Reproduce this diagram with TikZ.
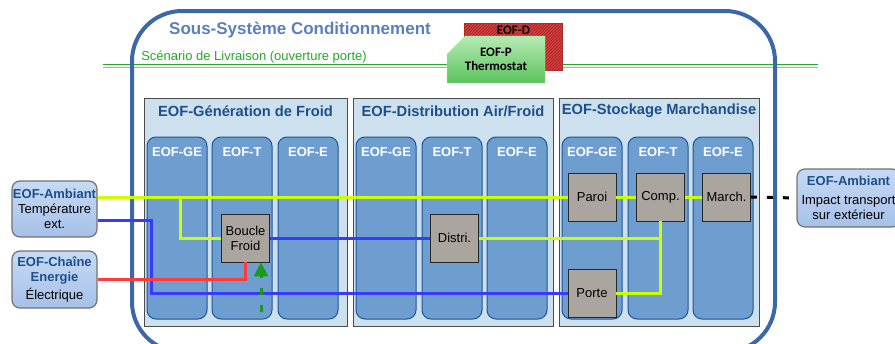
\documentclass[tikz,border=0pt]{standalone}
\usepackage{fontspec}
\setmainfont{Liberation Sans}
\newfontfamily\calibri{Carlito}
\usepackage{tikz}
\usetikzlibrary{arrows.meta,positioning,calc,shapes.misc,patterns}
\usepackage{xcolor}
\definecolor{cadreBleu}{HTML}{3D68A8}
\definecolor{titreBleu}{HTML}{5B7EBE}
\definecolor{panneauFond}{HTML}{CDE0EE}
\definecolor{eofBleu}{HTML}{1F4E8C}
\definecolor{colFond}{HTML}{6E9ED0}
\definecolor{colBord}{HTML}{1F5596}
\definecolor{boiteFond}{HTML}{ABA59F}
\definecolor{externeHaut}{HTML}{C6DAF4}
\definecolor{externeBas}{HTML}{A6C0E8}
\definecolor{lienJaune}{HTML}{CCFF00}
\definecolor{lienBleu}{HTML}{3A3AFF}
\definecolor{lienRouge}{HTML}{FF3B3B}
\definecolor{vertFleche}{HTML}{1A9A1A}
\definecolor{vertLigne}{HTML}{22AA22}
\definecolor{rougeD}{HTML}{D93B3B}
\definecolor{vertHaut}{HTML}{B4EAB4}
\definecolor{vertBas}{HTML}{5CC35C}

\begin{document}
\begin{tikzpicture}[x=1pt, y=-1pt,
  petit/.style={font=\fontsize{13}{15}\selectfont},
  panneau/.style={rectangle, draw=black!70, line width=0.8pt, fill=panneauFond,
    minimum width=200pt, minimum height=228pt},
  titrePanneau/.style={font=\fontsize{14.7}{17}\selectfont\bfseries, text=eofBleu},
  colonne/.style={rectangle, rounded corners=9pt, draw=colBord, line width=1pt, fill=colFond,
    minimum width=60pt, minimum height=182pt},
  entete/.style={font=\fontsize{13}{15}\selectfont\bfseries, text=white, anchor=north, yshift=-7pt},
  boite/.style={petit, rectangle, draw=black!85, line width=0.8pt, fill=boiteFond, align=center,
    minimum width=48pt, minimum height=48pt, inner sep=1pt},
  externe/.style={petit, rectangle, rounded corners=8pt, draw=black!55, line width=1.2pt,
    top color=externeHaut, bottom color=externeBas, align=center, inner sep=1pt},
  eof/.style={chamfered rectangle, chamfered rectangle corners=north west,
    chamfered rectangle xsep=14pt, chamfered rectangle ysep=7pt,
    minimum width=98pt, minimum height=47pt, inner sep=0pt,
    font=\calibri\bfseries\fontsize{13}{14}\selectfont, align=center},
  jaune/.style={draw=lienJaune, line width=3pt},
  bleu/.style={draw=lienBleu, line width=3pt},
  rouge/.style={draw=lienRouge, line width=3pt}
]
  \useasboundingbox (0,0) rectangle (895,343);
  \clip (0,0) rectangle (895,343);

  \draw[vertLigne, line width=1.5pt] (103,64.5) -- (818,64.5);
  \draw[vertLigne!55, line width=0.8pt] (103,67.5) -- (818,67.5);

  \node (cadre) [rectangle, rounded corners=50pt, draw=cadreBleu, line width=4pt,
    minimum width=643pt, minimum height=341pt] at (453.5,181.5) {};
  \node (titre) [font=\fontsize{17}{19}\selectfont\bfseries, text=titreBleu] at (300,30)
    {Sous-Système Conditionnement};
  \node (scenario) [petit, text=vertLigne] at (254,57) {Scénario de Livraison (ouverture porte)};

  \node (eofD) [eof, draw=rougeD!80!black, fill=rougeD,
    postaction={pattern=north east lines, pattern color=rougeD!70!black},
    label={[anchor=north, inner sep=3pt, font=\calibri\bfseries\fontsize{13}{14}\selectfont]north:EOF-D}]
    at (513.5,46.5) {};
  \node (eofP) [eof, draw=green!45!white, top color=vertHaut, bottom color=vertBas]
    at (496,59.5) {EOF-P\\Thermostat};

  \node (gen) [panneau, minimum width=203pt] at (245.5,212) {};
  \node (dist) [panneau] at (453,212) {};
  \node (stock) [panneau] at (659,212) {};
  \node (genTitre) [titrePanneau] at (245.5,111) {EOF-Génération de Froid};
  \node (distTitre) [titrePanneau] at (453,111) {EOF-Distribution Air/Froid};
  \node (stockTitre) [titrePanneau] at (659,111) {EOF-Stockage Marchandise};

  \node (genGE) [colonne, label={[entete]north:EOF-GE}] at (177,228) {};
  \node (genT) [colonne, label={[entete]north:EOF-T}] at (242,228) {};
  \node (genE) [colonne, label={[entete]north:EOF-E}] at (308,228) {};
  \node (distGE) [colonne, label={[entete]north:EOF-GE}] at (386,228) {};
  \node (distT) [colonne, label={[entete]north:EOF-T}] at (452,228) {};
  \node (distE) [colonne, label={[entete]north:EOF-E}] at (517,228) {};
  \node (stockGE) [colonne, label={[entete]north:EOF-GE}] at (592,228) {};
  \node (stockT) [colonne, label={[entete]north:EOF-T}] at (658,228) {};
  \node (stockE) [colonne, label={[entete]north:EOF-E}] at (723,228) {};

  \node (boucle) [boite] at (245.5,238) {Boucle\\Froid};
  \node (distri) [boite] at (454.5,238) {Distri.};
  \node (paroi) [boite] at (592,197) {Paroi};
  \node (comp) [boite] at (660.5,197) {Comp.};
  \node (march) [boite] at (726.5,197) {March.};
  \node (porte) [boite] at (592,293) {Porte};

  \node (ambG) [externe, minimum width=85pt, minimum height=56pt] at (54.5,209)
    {\textbf{\color{eofBleu}EOF-Ambiant}\\Température\\ext.};
  \node (chaine) [externe, minimum width=85pt, minimum height=57pt] at (54.5,279.5)
    {\textbf{\color{eofBleu}EOF-Chaîne}\\\textbf{\color{eofBleu}Energie}\\[3pt]Électrique};
  \node (ambD) [externe, minimum width=103pt, minimum height=58pt] at (848.5,198)
    {\textbf{\color{eofBleu}EOF-Ambiant}\\[4pt]Impact transport\\sur extérieur};

  \coordinate (embranche) at (180,197);
  \coordinate (coinBleu) at (151,293);
  \coordinate (capteur) at (261,312);

  \draw[jaune] (paroi.west -| ambG.east) -- (paroi.west);
  \draw[jaune] (embranche) |- (boucle.west);
  \draw[jaune] (paroi) -- (comp);
  \draw[jaune] (comp) -- (march);
  \draw[jaune] (distri.east) -| (comp.south);
  \draw[jaune] (porte.east) -| (comp.south);
  \draw[bleu] ([yshift=-11pt]ambG.east) -| (coinBleu) -- (porte.west);
  \draw[bleu] (boucle) -- (distri);
  \draw[rouge] (chaine.east) -| (boucle.south);
  \draw[vertFleche, line width=3pt, dash pattern=on 7pt off 10pt,
    -{Triangle[width=14pt,length=14pt]}] (capteur) -- (boucle.south -| capteur);
  \draw[black, line width=3pt, dash pattern=on 6pt off 10pt] (march.east) -- (ambD.west);
\end{tikzpicture}
\end{document}
